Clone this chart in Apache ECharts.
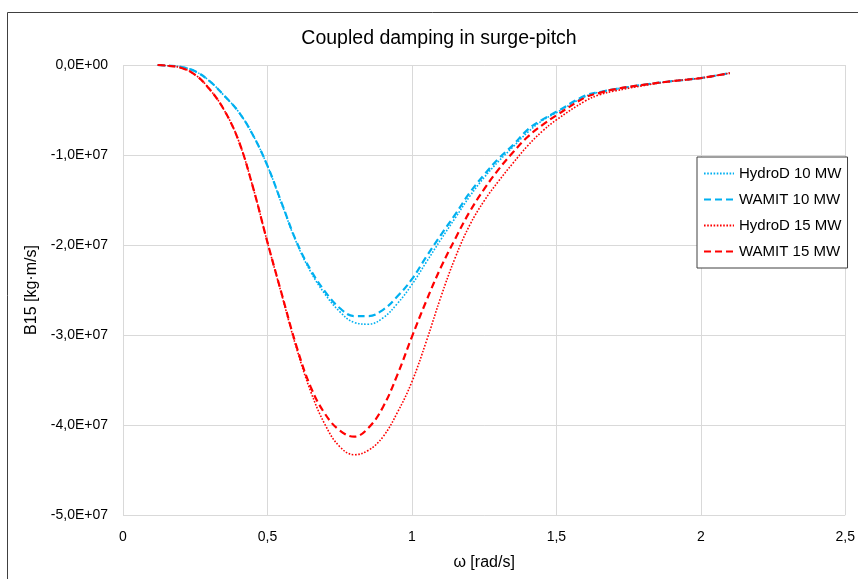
<!DOCTYPE html>
<html><head><meta charset="utf-8">
<script src="https://cdn.jsdelivr.net/npm/echarts@6/dist/echarts.min.js"></script>
<style>html,body{margin:0;padding:0;background:#fff}#c{width:858px;height:579px}</style>
</head><body><div id="c"></div>
<script>
const omega = [0.12,0.15,0.2,0.25,0.3,0.35,0.4,0.45,0.5,0.55,0.6,0.65,0.7,0.75,0.8,0.85,0.9,0.95,1.0,1.05,1.1,1.15,1.2,1.25,1.3,1.35,1.4,1.45,1.5,1.6,1.65,1.7,1.8,1.9,2.0,2.1];
// values in units of 1e7 kg·m/s
const hydroD10 = [0,-0.007,-0.02,-0.07,-0.18,-0.34,-0.52,-0.78,-1.12,-1.55,-1.97,-2.30,-2.55,-2.74,-2.86,-2.88,-2.81,-2.65,-2.44,-2.19,-1.94,-1.70,-1.46,-1.25,-1.07,-0.91,-0.75,-0.62,-0.53,-0.35,-0.30,-0.27,-0.22,-0.18,-0.145,-0.09];
const wamit10  = [0,-0.007,-0.02,-0.07,-0.18,-0.34,-0.52,-0.78,-1.12,-1.54,-1.96,-2.28,-2.52,-2.70,-2.79,-2.79,-2.72,-2.57,-2.38,-2.13,-1.89,-1.66,-1.42,-1.22,-1.04,-0.89,-0.72,-0.61,-0.52,-0.34,-0.30,-0.27,-0.22,-0.18,-0.145,-0.09];
const hydroD15 = [0,-0.007,-0.03,-0.11,-0.27,-0.50,-0.84,-1.36,-1.97,-2.56,-3.14,-3.63,-4.00,-4.24,-4.33,-4.28,-4.13,-3.86,-3.52,-3.07,-2.58,-2.14,-1.78,-1.51,-1.29,-1.09,-0.90,-0.74,-0.61,-0.40,-0.33,-0.29,-0.23,-0.18,-0.145,-0.09];
const wamit15  = [0,-0.007,-0.03,-0.11,-0.27,-0.50,-0.84,-1.36,-1.97,-2.55,-3.12,-3.58,-3.88,-4.06,-4.13,-4.03,-3.80,-3.44,-3.02,-2.62,-2.25,-1.93,-1.63,-1.38,-1.16,-0.97,-0.80,-0.67,-0.56,-0.36,-0.31,-0.27,-0.22,-0.18,-0.145,-0.09];
const seriesNames = ['HydroD 10 MW','WAMIT 10 MW','HydroD 15 MW','WAMIT 15 MW'];

const SCALE = 1e7;
const pairs = arr => omega.map((w,i)=>[w, arr[i]*SCALE]);
const BLUE = '#00b0f0', RED = '#ff0000';
const FONT = 'Liberation Sans';

function yFmt(v){
  if (v === 0) return '0,0E+00';
  const e = Math.floor(Math.log10(Math.abs(v)) + 1e-9);
  const m = v/Math.pow(10,e);
  return m.toFixed(1).replace('.',',') + 'E+' + String(e).padStart(2,'0');
}

const dotted = c => ({color:c, width:1.6, type:[1.6,1.6]});
const dashed = c => ({color:c, width:2.2, type:[7,4]});

const chart = echarts.init(document.getElementById('c'), null, {renderer:'canvas'});
chart.setOption({
  animation:false,
  backgroundColor:'#fff',
  title:{text:'Coupled damping in surge-pitch', left:434, top:24, textAlign:'center',
    textStyle:{fontFamily:FONT, fontSize:19.5, fontWeight:'normal', color:'#000'}},
  graphic:[
    {type:'polyline', shape:{points:[[7.5,579],[7.5,12.5],[858,12.5]]}, style:{stroke:'#404040', lineWidth:1, fill:null}}
  ],
  legend:{
    left:697, top:157, orient:'vertical', itemGap:11,
    padding:[9,6,9,6],
    borderColor:'#404040', borderWidth:1, backgroundColor:'#fff',
    itemWidth:30, itemHeight:14,
    itemStyle:{opacity:0},
    textStyle:{fontFamily:FONT, fontSize:15, color:'#000'},
    data:seriesNames
  },
  grid:{left:123, right:11, top:65, bottom:64},
  xAxis:{type:'value', min:0, max:2.5, interval:0.5,
    name:'ω [rad/s]', nameLocation:'middle', nameGap:40,
    nameTextStyle:{fontFamily:FONT, fontSize:16, color:'#000'},
    axisLine:{show:false}, axisTick:{show:false},
    axisLabel:{fontFamily:FONT, fontSize:14, color:'#000', margin:15,
      formatter:v=>String(v).replace('.',',')},
    splitLine:{show:true, lineStyle:{color:'#d9d9d9', width:1}}
  },
  yAxis:{type:'value', min:-5e7, max:0, interval:1e7,
    name:'B15 [kg·m/s]', nameLocation:'middle', nameGap:75, nameRotate:90,
    nameTextStyle:{fontFamily:FONT, fontSize:16, color:'#000'},
    axisLine:{show:false}, axisTick:{show:false},
    axisLabel:{fontFamily:FONT, fontSize:14, color:'#000', margin:15, formatter:yFmt},
    splitLine:{show:true, lineStyle:{color:'#d9d9d9', width:1}}
  },
  series:[
    {name:seriesNames[0], type:'line', data:pairs(hydroD10), smooth:0.4, symbol:'none',
      lineStyle:dotted(BLUE), itemStyle:{color:BLUE}},
    {name:seriesNames[1], type:'line', data:pairs(wamit10), smooth:0.4, symbol:'none',
      lineStyle:dashed(BLUE), itemStyle:{color:BLUE}},
    {name:seriesNames[2], type:'line', data:pairs(hydroD15), smooth:0.4, symbol:'none',
      lineStyle:dotted(RED), itemStyle:{color:RED}},
    {name:seriesNames[3], type:'line', data:pairs(wamit15), smooth:0.4, symbol:'none',
      lineStyle:dashed(RED), itemStyle:{color:RED}}
  ]
});
</script></body></html>
